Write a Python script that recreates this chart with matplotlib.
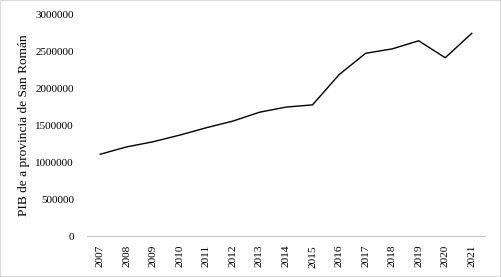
import matplotlib
matplotlib.use("Agg")
import matplotlib.pyplot as plt
from matplotlib.patches import Rectangle

years = ["2007", "2008", "2009", "2010", "2011", "2012", "2013", "2014",
         "2015", "2016", "2017", "2018", "2019", "2020", "2021"]
pib = [1110000, 1210000, 1280000, 1370000, 1470000, 1560000, 1680000, 1750000,
       1780000, 2190000, 2480000, 2540000, 2650000, 2420000, 2750000]
yticks = [0, 500000, 1000000, 1500000, 2000000, 2500000, 3000000]
ylabel = "PIB de a provincia de San Román"

plt.rcParams['font.family'] = ['Liberation Serif', 'DejaVu Serif']

fig = plt.figure(figsize=(5.01, 2.77), dpi=100)
ax = fig.add_axes([87/501, (277-236)/277, (485-87)/501, (236-15)/277])
x = list(range(len(years)))
ax.plot(x, pib, color="black", lw=1.0)
ax.set_xlim(-0.5, len(years) - 0.5)
ax.set_ylim(0, 3000000)
ax.set_yticks(yticks)
ax.set_yticklabels([str(v) for v in yticks], fontsize=8)
ax.set_xticks(x)
ax.set_xticklabels(years, rotation=90, fontsize=8.2)
ax.tick_params(axis='y', length=0, pad=9.4)
ax.tick_params(axis='x', length=0, pad=6.3)
for s in ["top", "right", "left"]:
    ax.spines[s].set_visible(False)
ax.spines["bottom"].set_color("#c8c8c8")
ax.spines["bottom"].set_linewidth(0.8)
ax.set_ylabel(ylabel, fontsize=9.6, labelpad=4)

fig.patches.append(Rectangle((0, 0), 1, 1, transform=fig.transFigure,
                             fill=False, edgecolor="#d9d9d9", lw=1.5))
fig.savefig("out.png", dpi=100)
